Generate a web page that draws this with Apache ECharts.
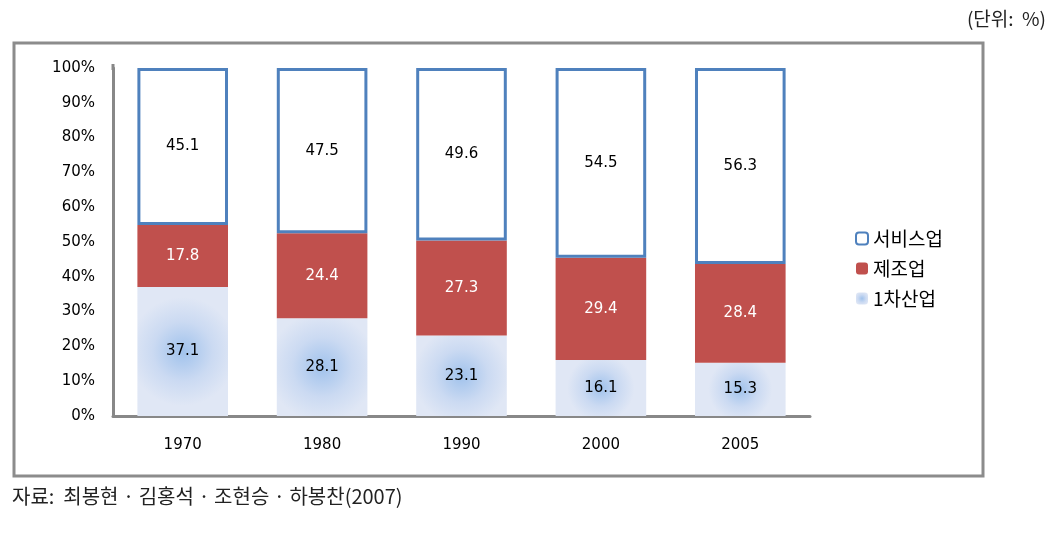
<!DOCTYPE html>
<html><head><meta charset="utf-8">
<script src="https://cdn.jsdelivr.net/npm/echarts@6/dist/echarts.min.js"></script>
<style>html,body{margin:0;padding:0;background:#fff}#c{width:1062px;height:537px}</style>
</head><body><div id="c"></div>
<script>
const years = ['1970','1980','1990','2000','2005'];
const primary = [37.1, 28.1, 23.1, 16.1, 15.3];
const manufacturing = [17.8, 24.4, 27.3, 29.4, 28.4];
const services = [45.1, 47.5, 49.6, 54.5, 56.3];
const seriesNames = ['1차산업', '제조업', '서비스업'];
const unitText = '(단위:  %)';
const sourceText = '자료:  최봉현 · 김홍석 · 조현승 · 하봉찬(2007)';

const chart = echarts.init(document.getElementById('c'), null, {renderer:'canvas'});
const labelFont = {fontFamily:'DejaVu Sans', fontSize:15};
chart.setOption({
  animation:false,
  backgroundColor:'#fff',
  grid:{left:113, right:252, top:68, bottom:121},
  xAxis:{type:'category', data:years,
    axisLine:{lineStyle:{color:'#888', width:3}}, axisTick:{show:false},
    axisLabel:{color:'#000', fontFamily:'DejaVu Sans', fontSize:15, margin:22}},
  yAxis:{type:'value', min:0, max:100, interval:10,
    axisLine:{show:true, lineStyle:{color:'#888', width:3}}, axisTick:{show:false},
    splitLine:{show:false},
    axisLabel:{color:'#000', fontFamily:'DejaVu Sans', fontSize:15, margin:18, formatter:'{value}%'}},
  legend:{orient:'vertical', left:850, top:224, itemWidth:12, itemHeight:12, itemGap:11,
    data:[seriesNames[2], seriesNames[1], seriesNames[0]],
    textStyle:{fontFamily:'Noto Sans CJK KR', fontSize:19, color:'#000'}},
  graphic:[
    {type:'rect', shape:{x:14, y:43, width:969, height:433}, style:{fill:'none', stroke:'#8c8c8c', lineWidth:3}, z:-1},
    {type:'line', shape:{x1:113, y1:64, x2:113, y2:70}, style:{stroke:'#888', lineWidth:3}},
    {type:'text', right:16, top:9, style:{text:unitText, fontFamily:'Noto Sans CJK KR', fontSize:19, fill:'#222'}},
    {type:'text', left:12, top:486, style:{text:sourceText, fontFamily:'Noto Sans CJK KR', fontSize:20, fill:'#222'}}
  ],
  series:[
    {name:seriesNames[0], type:'bar', stack:'s', data:primary, barWidth:'65%',
      itemStyle:{color:{type:'radial', x:0.5, y:0.5, r:0.6, colorStops:[{offset:0,color:'#a0c2ec'},{offset:0.55,color:'#cbdaf2'},{offset:1,color:'#e0e7f5'}]}},
      label:{show:true, position:'inside', color:'#000', ...labelFont}},
    {name:seriesNames[1], type:'bar', stack:'s', data:manufacturing,
      itemStyle:{color:'#c0504d'},
      label:{show:true, position:'inside', color:'#fff', ...labelFont}},
    {name:seriesNames[2], type:'bar', stack:'s', data:services,
      itemStyle:{color:'#fff', borderColor:'#4f81bd', borderWidth:3},
      label:{show:true, position:'inside', color:'#000', ...labelFont}}
  ]
});
</script></body></html>
